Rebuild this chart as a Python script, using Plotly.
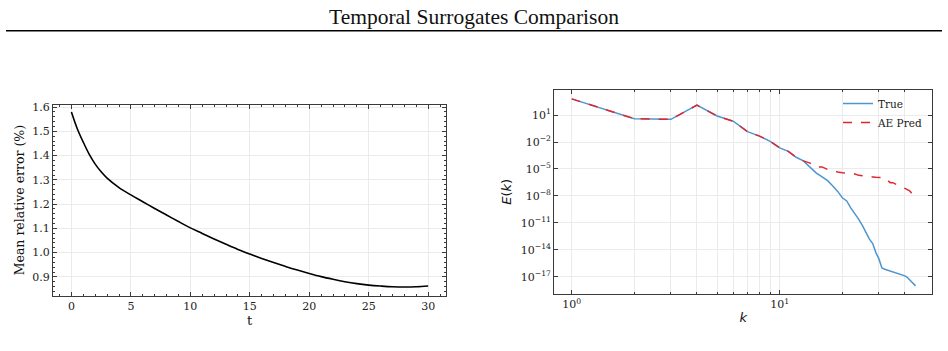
import plotly.graph_objects as go

# ---- data ----
t_vals = [0, 0.5, 1, 1.5, 2, 2.5, 3, 4, 5, 6, 7, 8, 9, 10, 11, 12, 13, 14, 15,
          16, 17, 18, 19, 20, 21, 22, 23, 24, 25, 26, 27, 28, 29, 30]
err_vals = [1.580, 1.510, 1.455, 1.405, 1.365, 1.333, 1.307, 1.268, 1.238, 1.210,
            1.182, 1.155, 1.128, 1.102, 1.079, 1.056, 1.034, 1.013, 0.994, 0.976,
            0.959, 0.943, 0.928, 0.914, 0.901, 0.890, 0.880, 0.872, 0.866, 0.862,
            0.859, 0.858, 0.859, 0.862]

k_vals = list(range(1, 46))
E_true = [6.2e2, 3.9e0, 3.3e0, 1.26e2, 7.8e0, 2.0e0, 1.4e-1, 4.5e-2, 1.2e-2, 2.2e-3,
          9.0e-4, 2.0e-4, 8.0e-5, 1.8e-5, 3.5e-6, 1.3e-6, 5.0e-7, 1.3e-7, 3.2e-8, 6.3e-9,
          2.8e-9, 4.5e-10, 1.1e-10, 2.5e-11, 5.0e-12, 8.0e-13, 1.6e-13, 5.0e-14, 5.0e-15, 1.0e-15,
          1.0e-16, 7.1e-17, 5.6e-17, 4.5e-17, 3.5e-17, 2.8e-17, 2.5e-17, 2.0e-17, 1.6e-17, 1.3e-17,
          8.9e-18, 5.0e-18, 3.5e-18, 1.8e-18, 1.0e-18]
E_pred = [6.2e2, 3.9e0, 3.3e0, 1.26e2, 7.8e0, 2.0e0, 1.4e-1, 4.5e-2, 1.2e-2, 2.2e-3,
          9.0e-4, 2.0e-4, 8.0e-5, 4.5e-5, 1.6e-5, 1.7e-5, 8.9e-6, 5.9e-6, 4.6e-6, 3.8e-6,
          3.5e-6, 3.0e-6, 2.8e-6, 1.95e-6, 1.7e-6, 1.4e-6, 1.3e-6, 1.3e-6, 1.2e-6, 1.2e-6,
          1.2e-6, 1.1e-6, 5.5e-7, 3.0e-7, 3.0e-7, 2.0e-7, 1.55e-7, 1.2e-7, 9.3e-8, 6.6e-8,
          5.1e-8, 4.0e-8, 2.2e-8, 1.45e-8, 1.1e-8]

ytick_exps = [1, -2, -5, -8, -11, -14, -17]
xtick_major = [1, 10]
xtick_minor = [2, 3, 4, 5, 6, 7, 8, 9, 20, 30, 40]

SERIF = "DejaVu Serif"
FRAME = "#3a3a3a"
GRID = "#ebebeb"

fig = go.Figure()
fig.add_trace(go.Scatter(x=t_vals, y=err_vals, mode="lines", line=dict(color="black", width=1.6),
                         line_shape="spline", showlegend=False, xaxis="x", yaxis="y"))
fig.add_trace(go.Scatter(x=k_vals, y=E_true, mode="lines", name="True",
                         line=dict(color="#4d96d0", width=1.5), xaxis="x2", yaxis="y2"))
fig.add_trace(go.Scatter(x=k_vals, y=E_pred, mode="lines", name="AE Pred",
                         line=dict(color="#e0272f", width=1.5, dash="dash"), xaxis="x2", yaxis="y2"))

W, H = 948, 351
def px(x):
    return x / W
def py(y):
    return 1 - y / H

common = dict(showline=True, linecolor=FRAME, linewidth=1.2, mirror="ticks",
              ticks="inside", tickcolor=FRAME, ticklen=4, tickwidth=1,
              showgrid=True, gridcolor=GRID, gridwidth=1, zeroline=False,
              tickfont=dict(family=SERIF, size=11, color="#222"))

fig.update_layout(
    width=W, height=H, margin=dict(l=0, r=0, t=0, b=0),
    paper_bgcolor="white", plot_bgcolor="white",
    xaxis=dict(domain=[px(53), px(446)], range=[-1.55, 31.5], tickvals=[0, 5, 10, 15, 20, 25, 30],
               minor=dict(dtick=1, ticks="inside", ticklen=2, tickcolor=FRAME, showgrid=False),
               title=dict(text="t", font=dict(family=SERIF, size=13, color="#111"), standoff=2),
               anchor="y", **common),
    yaxis=dict(domain=[py(295), py(101.7)], range=[0.8225, 1.6106], dtick=0.1, tickformat=".1f",
               minor=dict(dtick=0.02, ticks="inside", ticklen=2, tickcolor=FRAME, showgrid=False),
               title=dict(text="Mean relative error (%)", font=dict(family=SERIF, size=12.5, color="#111"),
                          standoff=4),
               anchor="x", **common),
    xaxis2=dict(type="log", domain=[px(554.3), px(932.3)], range=[-0.0837, 1.7337],
                tickvals=xtick_major, ticktext=["10<sup>0</sup>", "10<sup>1</sup>"],
                minor=dict(tickvals=xtick_minor, ticks="inside", ticklen=2, tickcolor=FRAME,
                           showgrid=True, gridcolor=GRID, gridwidth=1),
                title=dict(text="<i>k</i>", font=dict(family="DejaVu Sans", size=13, color="#111"), standoff=2),
                anchor="y2", **common),
    yaxis2=dict(type="log", domain=[py(293.3), py(86.7)], range=[-18.90, 3.815],
                tickvals=[10.0 ** e for e in ytick_exps],
                ticktext=["10<sup>%s</sup>" % (str(e).replace("-", "\u2212")) for e in ytick_exps],
                title=dict(text="<i>E</i>(<i>k</i>)", font=dict(family="DejaVu Sans", size=13, color="#111"),
                           standoff=6),
                anchor="x2", **common),
    legend=dict(x=px(838), y=py(86), xanchor="left", yanchor="top", bgcolor="rgba(0,0,0,0)",
                font=dict(family=SERIF, size=10.5, color="#222"), itemwidth=30, tracegroupgap=0),
    showlegend=True,
)

fig.add_annotation(text="Temporal Surrogates Comparison", x=0.5, y=py(13), xref="paper", yref="paper",
                   showarrow=False, xanchor="center", yanchor="middle",
                   font=dict(family="Liberation Serif", size=21.5, color="#111"))
fig.add_shape(type="line", xref="paper", yref="paper", x0=px(6), x1=px(942), y0=py(27), y1=py(27),
              line=dict(color="black", width=1.5))

fig.write_html("out.html")
